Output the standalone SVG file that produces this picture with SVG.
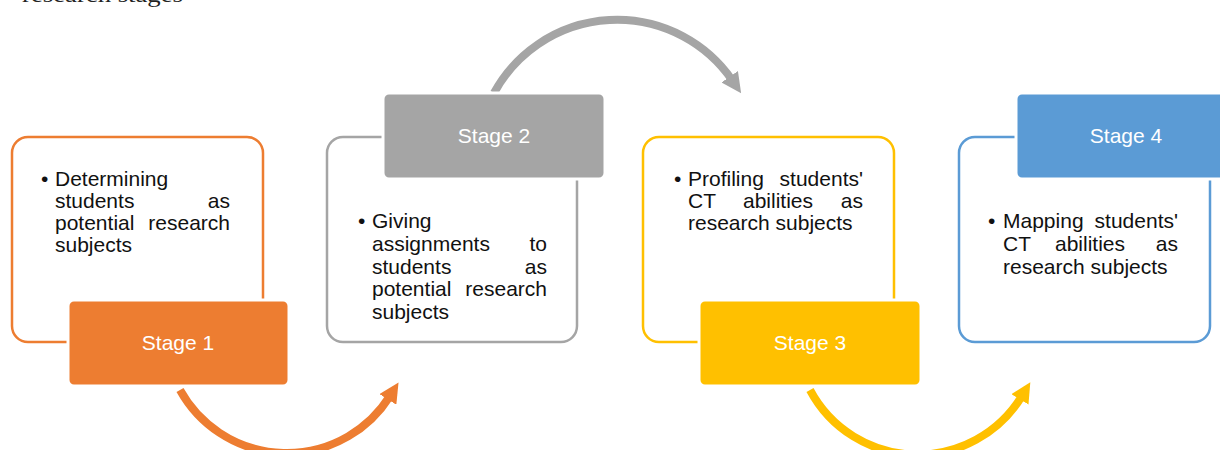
<svg xmlns="http://www.w3.org/2000/svg" width="1220" height="450" viewBox="0 0 1220 450">
<style>
.frame{fill:#fff;stroke-width:2.5}
.stage{stroke:#fff;stroke-width:3}
.lbl{font-family:"Liberation Sans",Arial,sans-serif;font-size:21px;fill:#fff;text-anchor:middle}
.body{font-family:"Liberation Sans",Arial,sans-serif;font-size:21px;fill:#111}
.e{text-anchor:end}
.m{text-anchor:middle}
.arc{fill:none;stroke-width:8}
</style>
<defs>
<marker id="ahO" viewBox="0 0 10 10" refX="2" refY="5" markerWidth="20" markerHeight="20" markerUnits="userSpaceOnUse" orient="auto"><path d="M0,0 L10,5 L0,10 z" fill="#ED7D31"/></marker>
<marker id="ahG" viewBox="0 0 10 10" refX="2" refY="5" markerWidth="20" markerHeight="20" markerUnits="userSpaceOnUse" orient="auto"><path d="M0,0 L10,5 L0,10 z" fill="#A5A5A5"/></marker>
<marker id="ahY" viewBox="0 0 10 10" refX="2" refY="5" markerWidth="20" markerHeight="20" markerUnits="userSpaceOnUse" orient="auto"><path d="M0,0 L10,5 L0,10 z" fill="#FFC000"/></marker>
</defs>
<rect width="1220" height="450" fill="#fff"/>
<text x="22" y="2" font-family="Liberation Serif,serif" font-size="21" fill="#222" textLength="161" lengthAdjust="spacingAndGlyphs">research stages</text>

<g id="connectors">
<path class="arc" stroke="#ED7D31" d="M180,390 A122,122 0 0 0 390,396" marker-end="url(#ahO)"/>
<path class="arc" stroke="#A5A5A5" d="M494,93 A140,140 0 0 1 732,80" marker-end="url(#ahG)"/>
<path class="arc" stroke="#FFC000" d="M810,390 A122,122 0 0 0 1022,396" marker-end="url(#ahY)"/>
</g>

<g id="stage1">
<rect class="frame" x="12" y="137" width="251" height="205" rx="16" stroke="#ED7D31"/>
<rect class="stage" x="68" y="300" width="221" height="86" rx="6" fill="#ED7D31"/>
<text class="lbl" x="178" y="350">Stage 1</text>
<text class="body" x="41" y="186">•</text>
<text class="body" x="55" y="186">Determining</text>
<text class="body" x="55" y="208">students</text><text class="body e" x="230" y="208">as</text>
<text class="body" x="55" y="230">potential</text><text class="body e" x="230" y="230">research</text>
<text class="body" x="55" y="252">subjects</text>
</g>

<g id="stage2">
<rect class="frame" x="327" y="137" width="250" height="205" rx="16" stroke="#A5A5A5"/>
<rect class="stage" x="383" y="93" width="222" height="86" rx="6" fill="#A5A5A5"/>
<text class="lbl" x="494" y="143">Stage 2</text>
<text class="body" x="358" y="228">•</text>
<text class="body" x="372" y="228">Giving</text>
<text class="body" x="372" y="251">assignments</text><text class="body e" x="547" y="251">to</text>
<text class="body" x="372" y="274">students</text><text class="body e" x="547" y="274">as</text>
<text class="body" x="372" y="296">potential</text><text class="body e" x="547" y="296">research</text>
<text class="body" x="372" y="319">subjects</text>
</g>

<g id="stage3">
<rect class="frame" x="643" y="137" width="251" height="205" rx="16" stroke="#FFC000"/>
<rect class="stage" x="699" y="300" width="222" height="86" rx="6" fill="#FFC000"/>
<text class="lbl" x="810" y="350">Stage 3</text>
<text class="body" x="674" y="186">•</text>
<text class="body" x="688" y="186">Profiling</text><text class="body e" x="863" y="186">students'</text>
<text class="body" x="688" y="208">CT</text><text class="body m" x="778" y="208">abilities</text><text class="body e" x="863" y="208">as</text>
<text class="body" x="688" y="230">research subjects</text>
</g>

<g id="stage4">
<rect class="frame" x="959" y="137" width="251" height="205" rx="16" stroke="#5B9BD5"/>
<rect class="stage" x="1016" y="93" width="222" height="86" rx="6" fill="#5B9BD5"/>
<text class="lbl" x="1126" y="143">Stage 4</text>
<text class="body" x="988" y="228">•</text>
<text class="body" x="1003" y="228">Mapping</text><text class="body e" x="1178" y="228">students'</text>
<text class="body" x="1003" y="251">CT</text><text class="body m" x="1090" y="251">abilities</text><text class="body e" x="1178" y="251">as</text>
<text class="body" x="1003" y="274">research subjects</text>
</g>
</svg>
